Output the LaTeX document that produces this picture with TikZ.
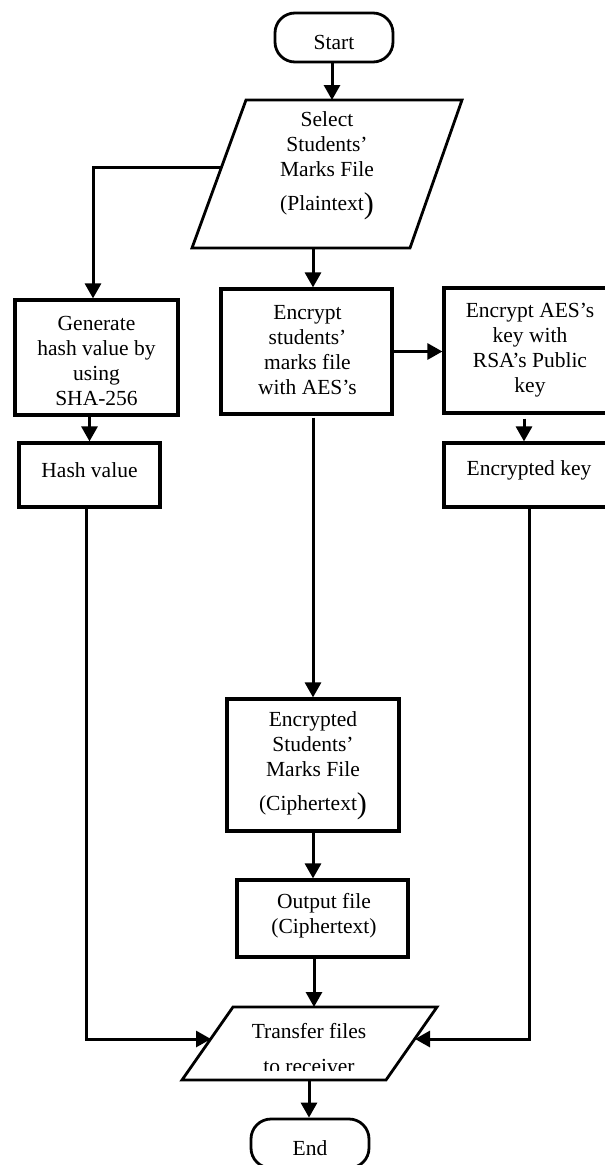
\documentclass[tikz,border=0pt]{standalone}
\usepackage{fontspec}
\setmainfont{Liberation Serif}
\usetikzlibrary{arrows.meta}
\newcommand\flowfont{\fontsize{21.5}{25}\selectfont}
\newcommand\bigparen{\raisebox{-3pt}{\fontsize{30}{30}\selectfont)}}
\begin{document}
\begin{tikzpicture}[x=1pt,y=-1pt,
  flow/.style={-{Triangle[length=15pt,width=16pt]}, line width=3pt},
  procbox/.style={draw, line width=3.2pt, inner sep=0pt},
  termbox/.style={draw, line width=2.8pt, inner sep=0pt, rounded corners=20pt,
                  minimum width=118pt, minimum height=49pt},
  iobox/.style={draw, line width=2.8pt, line join=miter},
  label/.style={inner sep=0pt, align=center, font=\flowfont}]
\useasboundingbox (0,0) rectangle (605,1165);
\clip (0,0) rectangle (605,1165);

% terminals
\node[termbox] (start) at (334,37.5) {};
\node[label] (start-t) at (334,42) {Start};
\node[termbox] (end) at (310,1143.5) {};
\node[label] (end-t) at (310,1148) {End};

% input parallelogram
\draw[iobox] (246,100) -- (462,100) -- (410,248) -- (192,248) -- cycle;
\coordinate (sel-top) at (332,100);
\coordinate (sel-bot) at (313,248);
\coordinate (sel-left) at (221,167);
\node[label] (sel-t) at (327,166) {Select\\Students’\\Marks File\\[9pt](Plaintext\bigparen};

% process boxes
\node[procbox, minimum width=163pt, minimum height=115pt] (gen) at (96.5,357.5) {};
\node[label] (gen-t) at (96.5,361) {Generate\\hash value by\\using\\SHA-256};
\node[procbox, minimum width=141pt, minimum height=64pt] (hash) at (89.5,475) {};
\node[label] (hash-t) at (89.5,470) {Hash value};

\node[procbox, minimum width=171pt, minimum height=125pt] (enc) at (306.5,351.5) {};
\node[label] (enc-t) at (307.5,350) {Encrypt\\students’\\marks file\\with AES’s};

\node[procbox, minimum width=172pt, minimum height=125pt] (aes) at (530,350.5) {};
\node[label] (aes-t) at (530,350) {Encrypt AES’s\\key with\\RSA’s Public\\key};
\node[procbox, minimum width=172pt, minimum height=64pt] (ekey) at (530,475) {};
\node[label] (ekey-t) at (529,470) {Encrypted key};

\node[procbox, minimum width=172pt, minimum height=132pt] (encfile) at (313,765) {};
\node[label] (encfile-t) at (313,766) {Encrypted\\Students’\\Marks File\\[9pt](Ciphertext\bigparen};

\node[procbox, minimum width=171pt, minimum height=77pt] (out) at (322.5,918.5) {};
\node[label] (out-t) at (324,916) {Output file\\(Ciphertext)};

% output parallelogram
\draw[iobox] (233,1007) -- (437,1007) -- (386,1080) -- (182,1080) -- cycle;
\coordinate (tr-top) at (314,1007);
\coordinate (tr-bot) at (309,1080);
\coordinate (tr-left) at (211,1039);
\coordinate (tr-right) at (415,1039);
\begin{scope}
  \clip (150,995) rectangle (470,1070);
  \node[label] (tr-t) at (309,1049) {Transfer files\\[10pt]to receiver};
\end{scope}

% connectors
\draw[flow] (start.south -| sel-top) -- (sel-top);
\draw[flow] (sel-bot) -- (sel-bot |- enc.north);
\draw[flow] (sel-left) -| ([xshift=-3.5pt]gen.north);
\draw[flow] (hash.north |- gen.south) -- (hash.north);
\draw[flow] (enc.east) -- (enc.east -| aes.west);
\draw[flow, shorten <=4pt] ([xshift=-6pt]aes.south) -- ([xshift=-6pt]ekey.north);
\draw[flow, shorten <=2pt] (encfile.north |- enc.south) -- (encfile.north);
\draw[flow] (encfile.south) -- (encfile.south |- out.north);
\draw[flow] (out.south -| tr-top) -- (tr-top);
\draw[flow] ([xshift=-3.5pt]hash.south) |- (tr-left);
\draw[flow] ([xshift=-1pt]ekey.south) |- (tr-right);
\draw[flow] (tr-bot) -- (tr-bot |- end.north);
\end{tikzpicture}
\end{document}
